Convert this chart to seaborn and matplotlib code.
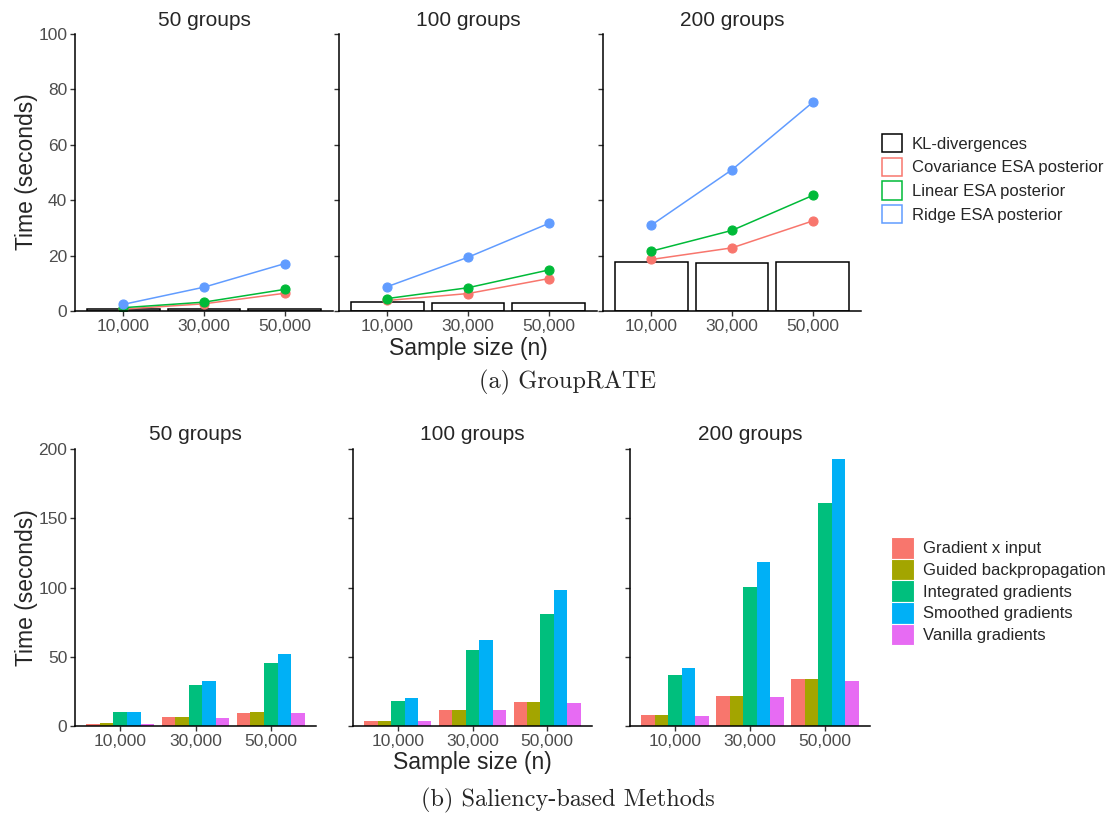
import pandas as pd
import numpy as np
import matplotlib
matplotlib.use('Agg')
import matplotlib.pyplot as plt
from matplotlib.patches import Patch
import seaborn as sns

# dados
sizes = ['10,000', '30,000', '50,000']
groups = ['50 groups', '100 groups', '200 groups']

# (a) GroupRATE - 3 valores por grupo (50, 100, 200)
kl_div = [0.6, 0.6, 0.6, 3.2, 2.9, 3.0, 17.8, 17.4, 17.8]
cov_esa = [0.7, 2.6, 6.4, 3.8, 6.3, 11.7, 18.6, 22.8, 32.5]
linear_esa = [1.2, 3.2, 7.8, 4.5, 8.4, 14.8, 21.6, 29.1, 41.7]
ridge_esa = [2.4, 8.6, 17.1, 8.8, 19.4, 31.6, 31.0, 51.0, 75.3]

# (b) Saliency-based methods
grad_input = [1.4, 6.7, 9.4, 3.6, 11.6, 17.3, 7.9, 21.7, 33.9]
guided_bp = [2.2, 6.7, 10.1, 3.6, 11.6, 17.3, 7.9, 21.7, 33.9]
integrated = [10.1, 29.6, 45.7, 18.1, 54.9, 80.9, 36.8, 100.4, 161.0]
smoothed = [10.1, 32.5, 52.0, 20.2, 62.1, 98.2, 41.9, 118.4, 192.8]
vanilla = [1.4, 6.0, 9.4, 3.6, 11.6, 16.6, 7.2, 20.9, 32.5]

rate_methods = ['Covariance ESA posterior', 'Linear ESA posterior', 'Ridge ESA posterior']
rate_colors = ['#F8766D', '#00BA38', '#619CFF']
sal_methods = ['Gradient x input', 'Guided backpropagation', 'Integrated gradients',
               'Smoothed gradients', 'Vanilla gradients']
sal_colors = ['#F8766D', '#A3A500', '#00BF7D', '#00B0F6', '#E76BF3']


def long_df(series, names):
    rows = []
    for vals, name in zip(series, names):
        for i, v in enumerate(vals):
            rows.append({'group': groups[i // 3], 'n': sizes[i % 3], 'method': name, 'time': v})
    return pd.DataFrame(rows)


kl_df = long_df([kl_div], ['KL-divergences'])
rate_df = long_df([cov_esa, linear_esa, ridge_esa], rate_methods)
sal_df = long_df([grad_input, guided_bp, integrated, smoothed, vanilla], sal_methods)

sns.set_style('ticks')
plt.rcParams['font.family'] = ['Liberation Sans', 'DejaVu Sans']

W, H = 1111, 814
fig = plt.figure(figsize=(W / 100, H / 100), dpi=100)


def add_ax(l, r, t, b):
    return fig.add_axes([l / W, 1 - b / H, (r - l) / W, (b - t) / H])


def style_ax(ax, show_labels, yticks):
    ax.set_xlim(-0.6, 2.6)
    ax.set_yticks(yticks)
    ax.set_ylim(yticks[0], yticks[-1])
    ax.set_xlabel('')
    ax.set_ylabel('')
    for s in ['top', 'right']:
        ax.spines[s].set_visible(False)
    for s in ['left', 'bottom']:
        ax.spines[s].set_linewidth(1.1)
        ax.spines[s].set_color('black')
    ax.tick_params(length=3.5, width=1.0, color='#333333', labelsize=12.5,
                   labelcolor='#4D4D4D', pad=2)
    if not show_labels:
        ax.set_yticklabels([])


# ---- (a) GroupRATE ----
top_pos = [(75, 333), (339, 597), (603, 861)]
for k, (l, r) in enumerate(top_pos):
    ax = add_ax(l, r, 34, 311)
    g = groups[k]
    sns.barplot(data=kl_df[kl_df.group == g], x='n', y='time', order=sizes, width=0.9,
                color='white', edgecolor='black', linewidth=1.1, errorbar=None, ax=ax)
    sns.pointplot(data=rate_df[rate_df.group == g], x='n', y='time', hue='method',
                  order=sizes, hue_order=rate_methods, palette=rate_colors, markers='o',
                  markersize=6.5, linewidth=1.1, errorbar=None, legend=False, ax=ax)
    style_ax(ax, k == 0, [0, 20, 40, 60, 80, 100])
    fig.text((l + r) / 2 / W, 1 - 20 / H, g, ha='center', va='center', fontsize=15)

fig.text(468 / W, 1 - 348 / H, 'Sample size (n)', ha='center', va='center', fontsize=16.5)
fig.text(27 / W, 1 - 172 / H, 'Time (seconds)', ha='center', va='center', rotation=90, fontsize=16.5)

rate_handles = [Patch(facecolor='white', edgecolor='black', linewidth=1.1, label='KL-divergences')]
rate_handles += [Patch(facecolor='white', edgecolor=c, linewidth=1.1, label=m)
                 for m, c in zip(rate_methods, rate_colors)]
fig.legend(handles=rate_handles, loc='upper left', bbox_to_anchor=(882 / W, 1 - 134 / H),
           frameon=False, fontsize=12, handlelength=1.2, handleheight=1.3,
           handletextpad=0.6, labelspacing=0.33, borderpad=0, borderaxespad=0)

fig.text(568 / W, 1 - 382 / H, '(a) GroupRATE', ha='center', va='center',
         fontsize=17.5, family='cmr10')

# ---- (b) Saliency-based Methods ----
bot_pos = [(75, 316), (353, 592), (630, 870)]
for k, (l, r) in enumerate(bot_pos):
    ax = add_ax(l, r, 449, 726)
    g = groups[k]
    sns.barplot(data=sal_df[sal_df.group == g], x='n', y='time', hue='method',
                order=sizes, hue_order=sal_methods, palette=sal_colors, width=0.9,
                saturation=1, errorbar=None, legend=False, linewidth=0, ax=ax)
    style_ax(ax, k == 0, [0, 50, 100, 150, 200])
    fig.text((l + r) / 2 / W, 1 - 435 / H, g, ha='center', va='center', fontsize=15)

fig.text(472 / W, 1 - 763 / H, 'Sample size (n)', ha='center', va='center', fontsize=16.5)
fig.text(27 / W, 1 - 588 / H, 'Time (seconds)', ha='center', va='center', rotation=90, fontsize=16.5)

sal_handles = [Patch(facecolor=c, edgecolor='white', linewidth=0.8, label=m)
               for m, c in zip(sal_methods, sal_colors)]
fig.legend(handles=sal_handles, loc='upper left', bbox_to_anchor=(891 / W, 1 - 537 / H),
           frameon=False, fontsize=12, handlelength=1.35, handleheight=1.62,
           handletextpad=0.55, labelspacing=0.0, borderpad=0, borderaxespad=0)

fig.text(568 / W, 1 - 800 / H, '(b) Saliency-based Methods', ha='center', va='center',
         fontsize=17.5, family='cmr10')

plt.savefig('out.png', dpi=100)
